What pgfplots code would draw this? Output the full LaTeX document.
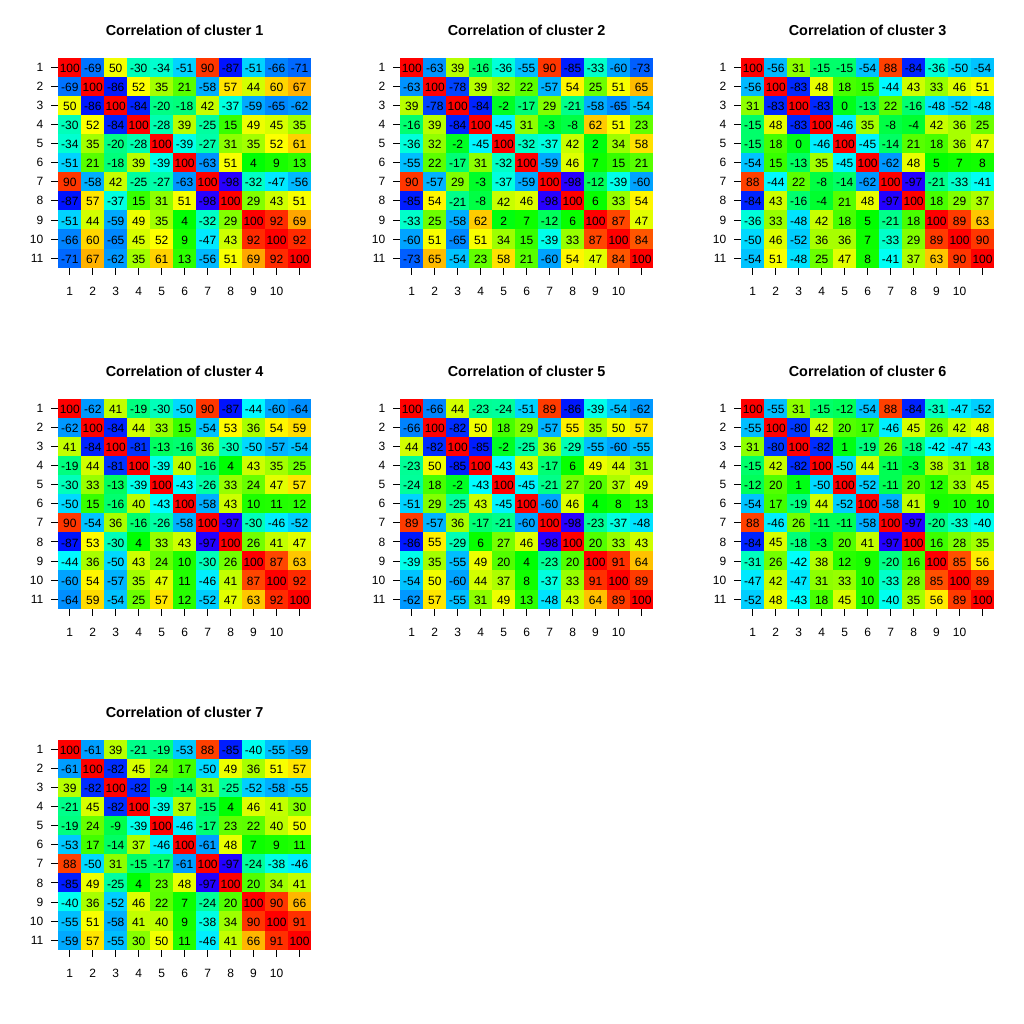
\documentclass[border=0pt]{standalone}
\usepackage{fontspec}
\setmainfont{Liberation Sans}
\usepackage{pgfplots}
\usepackage{pgfplotstable}
\pgfplotsset{compat=1.18}

% one heatmap cell, 23 x 19.1 px
\pgfdeclareplotmark{cell}{%
  \pgfpathrectangle{\pgfpoint{-11.55pt}{-9.6pt}}{\pgfpoint{23.1pt}{19.2pt}}%
  \pgfusepathqfill}

\pgfplotsset{
  % rainbow from violet (-100) over blue, cyan, green, yellow to red (100)
  colormap={corr}{rgb(0cm)=(0.2,0,1) rgb(1cm)=(0,0,1) rgb(6cm)=(0,1,1)
    rgb(11cm)=(0,1,0) rgb(16cm)=(1,1,0) rgb(21cm)=(1,0,0)},
  corrpanel/.style={
    width=252.7pt, height=210pt, scale only axis, anchor=south west,
    xmin=0.5, xmax=11.5, ymin=0.5, ymax=11.5,
    axis lines*=left, axis line style={draw=none}, clip=false,
    tick align=outside, major tick length=7pt,
    tick style={black, line width=0.8pt},
    xtick={1,...,11}, xticklabels={1,2,3,4,5,6,7,8,9,10,{}},
    ytick={1,...,11}, yticklabels={11,10,9,8,7,6,5,4,3,2,1},
    tick label style={font=\fontsize{12}{14}\selectfont},
    xticklabel style={anchor=base, inner sep=0pt, yshift=-21pt},
    yticklabel style={anchor=east, inner sep=0pt, xshift=-7.8pt},
    every axis title/.style={at={(0.5,1)}, anchor=base, yshift=22.5pt,
      inner sep=0pt, font=\bfseries\fontsize{14.4}{17}\selectfont},
    colormap name=corr, point meta min=-100, point meta max=100,
    /pgf/number format/assume math mode=true,
  },
  cells/.style={only marks, scatter, mark=cell, point meta=explicit},
  vals/.style={only marks, mark=none, point meta=explicit,
    nodes near coords, nodes near coords align=center,
    every node near coord/.append style={anchor=center,
      font=\fontsize{12}{14}\selectfont, text=black, inner sep=0pt, yshift=-1pt}},
}

\pgfplotstableread{
r c1 c2 c3 c4 c5 c6 c7 c8 c9 c10 c11
1 100 -69 50 -30 -34 -51 90 -87 -51 -66 -71
2 -69 100 -86 52 35 21 -58 57 44 60 67
3 50 -86 100 -84 -20 -18 42 -37 -59 -65 -62
4 -30 52 -84 100 -28 39 -25 15 49 45 35
5 -34 35 -20 -28 100 -39 -27 31 35 52 61
6 -51 21 -18 39 -39 100 -63 51 4 9 13
7 90 -58 42 -25 -27 -63 100 -98 -32 -47 -56
8 -87 57 -37 15 31 51 -98 100 29 43 51
9 -51 44 -59 49 35 4 -32 29 100 92 69
10 -66 60 -65 45 52 9 -47 43 92 100 92
11 -71 67 -62 35 61 13 -56 51 69 92 100
}\clA

\pgfplotstableread{
r c1 c2 c3 c4 c5 c6 c7 c8 c9 c10 c11
1 100 -63 39 -16 -36 -55 90 -85 -33 -60 -73
2 -63 100 -78 39 32 22 -57 54 25 51 65
3 39 -78 100 -84 -2 -17 29 -21 -58 -65 -54
4 -16 39 -84 100 -45 31 -3 -8 62 51 23
5 -36 32 -2 -45 100 -32 -37 42 2 34 58
6 -55 22 -17 31 -32 100 -59 46 7 15 21
7 90 -57 29 -3 -37 -59 100 -98 -12 -39 -60
8 -85 54 -21 -8 42 46 -98 100 6 33 54
9 -33 25 -58 62 2 7 -12 6 100 87 47
10 -60 51 -65 51 34 15 -39 33 87 100 84
11 -73 65 -54 23 58 21 -60 54 47 84 100
}\clB

\pgfplotstableread{
r c1 c2 c3 c4 c5 c6 c7 c8 c9 c10 c11
1 100 -56 31 -15 -15 -54 88 -84 -36 -50 -54
2 -56 100 -83 48 18 15 -44 43 33 46 51
3 31 -83 100 -83 0 -13 22 -16 -48 -52 -48
4 -15 48 -83 100 -46 35 -8 -4 42 36 25
5 -15 18 0 -46 100 -45 -14 21 18 36 47
6 -54 15 -13 35 -45 100 -62 48 5 7 8
7 88 -44 22 -8 -14 -62 100 -97 -21 -33 -41
8 -84 43 -16 -4 21 48 -97 100 18 29 37
9 -36 33 -48 42 18 5 -21 18 100 89 63
10 -50 46 -52 36 36 7 -33 29 89 100 90
11 -54 51 -48 25 47 8 -41 37 63 90 100
}\clC

\pgfplotstableread{
r c1 c2 c3 c4 c5 c6 c7 c8 c9 c10 c11
1 100 -62 41 -19 -30 -50 90 -87 -44 -60 -64
2 -62 100 -84 44 33 15 -54 53 36 54 59
3 41 -84 100 -81 -13 -16 36 -30 -50 -57 -54
4 -19 44 -81 100 -39 40 -16 4 43 35 25
5 -30 33 -13 -39 100 -43 -26 33 24 47 57
6 -50 15 -16 40 -43 100 -58 43 10 11 12
7 90 -54 36 -16 -26 -58 100 -97 -30 -46 -52
8 -87 53 -30 4 33 43 -97 100 26 41 47
9 -44 36 -50 43 24 10 -30 26 100 87 63
10 -60 54 -57 35 47 11 -46 41 87 100 92
11 -64 59 -54 25 57 12 -52 47 63 92 100
}\clD

\pgfplotstableread{
r c1 c2 c3 c4 c5 c6 c7 c8 c9 c10 c11
1 100 -66 44 -23 -24 -51 89 -86 -39 -54 -62
2 -66 100 -82 50 18 29 -57 55 35 50 57
3 44 -82 100 -85 -2 -25 36 -29 -55 -60 -55
4 -23 50 -85 100 -43 43 -17 6 49 44 31
5 -24 18 -2 -43 100 -45 -21 27 20 37 49
6 -51 29 -25 43 -45 100 -60 46 4 8 13
7 89 -57 36 -17 -21 -60 100 -98 -23 -37 -48
8 -86 55 -29 6 27 46 -98 100 20 33 43
9 -39 35 -55 49 20 4 -23 20 100 91 64
10 -54 50 -60 44 37 8 -37 33 91 100 89
11 -62 57 -55 31 49 13 -48 43 64 89 100
}\clE

\pgfplotstableread{
r c1 c2 c3 c4 c5 c6 c7 c8 c9 c10 c11
1 100 -55 31 -15 -12 -54 88 -84 -31 -47 -52
2 -55 100 -80 42 20 17 -46 45 26 42 48
3 31 -80 100 -82 1 -19 26 -18 -42 -47 -43
4 -15 42 -82 100 -50 44 -11 -3 38 31 18
5 -12 20 1 -50 100 -52 -11 20 12 33 45
6 -54 17 -19 44 -52 100 -58 41 9 10 10
7 88 -46 26 -11 -11 -58 100 -97 -20 -33 -40
8 -84 45 -18 -3 20 41 -97 100 16 28 35
9 -31 26 -42 38 12 9 -20 16 100 85 56
10 -47 42 -47 31 33 10 -33 28 85 100 89
11 -52 48 -43 18 45 10 -40 35 56 89 100
}\clF

\pgfplotstableread{
r c1 c2 c3 c4 c5 c6 c7 c8 c9 c10 c11
1 100 -61 39 -21 -19 -53 88 -85 -40 -55 -59
2 -61 100 -82 45 24 17 -50 49 36 51 57
3 39 -82 100 -82 -9 -14 31 -25 -52 -58 -55
4 -21 45 -82 100 -39 37 -15 4 46 41 30
5 -19 24 -9 -39 100 -46 -17 23 22 40 50
6 -53 17 -14 37 -46 100 -61 48 7 9 11
7 88 -50 31 -15 -17 -61 100 -97 -24 -38 -46
8 -85 49 -25 4 23 48 -97 100 20 34 41
9 -40 36 -52 46 22 7 -24 20 100 90 66
10 -55 51 -58 41 40 9 -38 34 90 100 91
11 -59 57 -55 30 50 11 -46 41 66 91 100
}\clG

% #1,#2 = lower left corner of the heatmap, #3 = cluster number, #4 = table
\newcommand\corrpanel[4]{%
  \begin{axis}[corrpanel, at={(#1,#2)}, title={Correlation of cluster #3}]
    \pgfplotsinvokeforeach{1,...,11}{%
      \addplot[cells] table[x expr=##1, y expr=12-\thisrow{r}, meta=c##1] {#4};
    }
    \pgfplotsinvokeforeach{1,...,11}{%
      \addplot[vals] table[x expr=##1, y expr=12-\thisrow{r}, meta=c##1] {#4};
    }
    \draw[black, line width=0.8pt] (axis cs:1,0.5) -- (axis cs:11,0.5)
      (axis cs:0.5,1) -- (axis cs:0.5,11);
  \end{axis}}

\begin{document}
\begin{tikzpicture}
\useasboundingbox (0,0) rectangle (1024pt,1024pt);
\corrpanel{58.3pt}{756.3pt}{1}{\clA}
\corrpanel{400.3pt}{756.3pt}{2}{\clB}
\corrpanel{741.3pt}{756.3pt}{3}{\clC}
\corrpanel{58.3pt}{415.3pt}{4}{\clD}
\corrpanel{400.3pt}{415.3pt}{5}{\clE}
\corrpanel{741.3pt}{415.3pt}{6}{\clF}
\corrpanel{58.3pt}{74.3pt}{7}{\clG}
\end{tikzpicture}
\end{document}
